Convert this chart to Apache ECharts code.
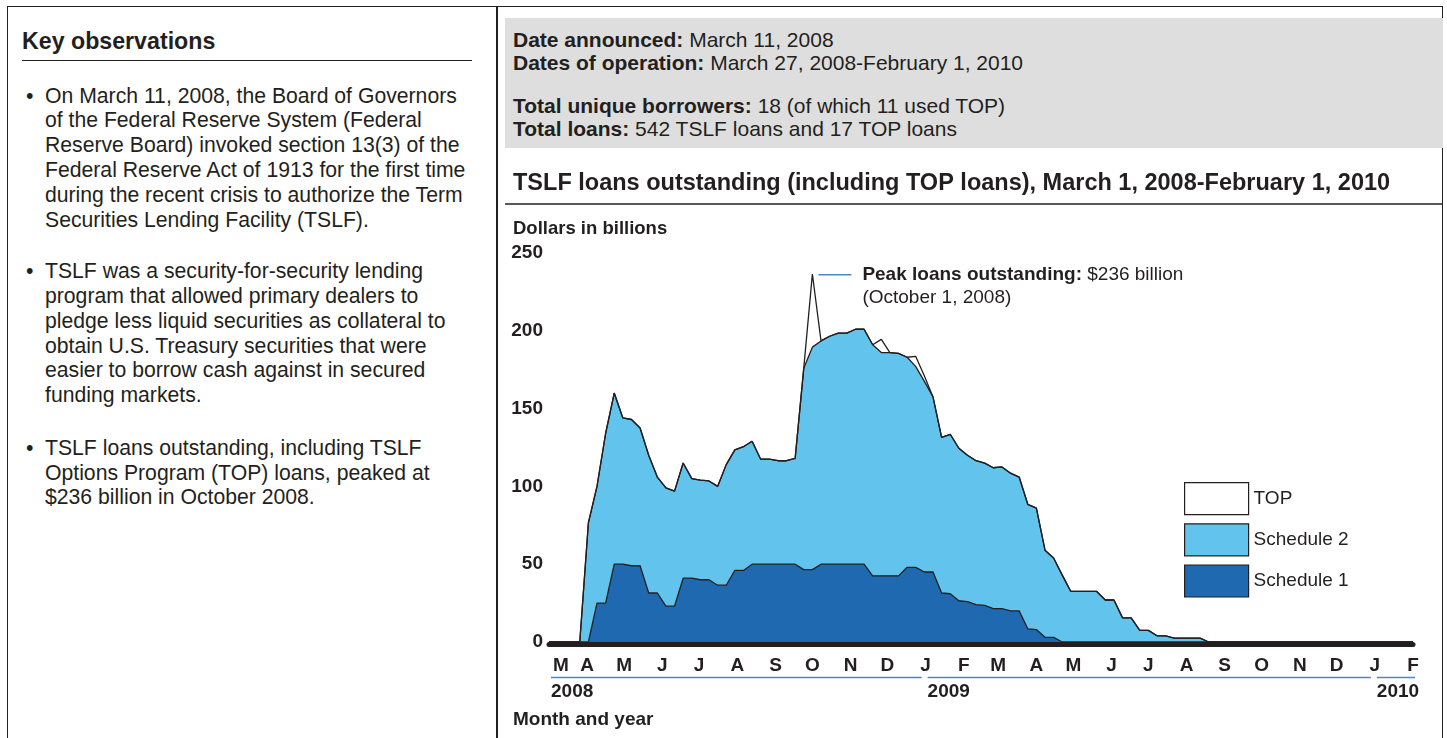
<!DOCTYPE html>
<html>
<head>
<meta charset="utf-8">
<title>TSLF loans outstanding</title>
<script src="https://cdn.jsdelivr.net/npm/echarts@6/dist/echarts.min.js"></script>
<style>
  body { margin: 0; width: 1447px; height: 738px; overflow: hidden; background: #fff;
         font-family: 'Liberation Sans', Arial, sans-serif; color: #231f20; position: relative; }
  .frame { position: absolute; left: 7px; top: 6px; width: 1436px; height: 760px;
           border: 1.5px solid #231f20; box-sizing: border-box; }
  .divider { position: absolute; left: 496px; top: 6px; width: 1.5px; height: 740px; background: #231f20; }
  .key { position: absolute; left: 22px; top: 28px; font-weight: bold; font-size: 23.2px; line-height: 26px; }
  .key-rule { position: absolute; left: 22px; top: 59.5px; width: 450px; height: 1.3px; background: #231f20; }
  .para { position: absolute; left: 45px; font-size: 21.2px; line-height: 24.8px; white-space: nowrap; }
  .para::before { content: '\2022'; position: absolute; left: -19px; top: 0; }
  .info { position: absolute; left: 505px; top: 18px; width: 938px; height: 130px; background: #dedede; }
  .info div { position: absolute; left: 8px; font-size: 21px; line-height: 23px; white-space: nowrap; }
  #chart { position: absolute; left: 0; top: 0; width: 1447px; height: 738px; }
</style>
</head>
<body>
<div class="frame"></div>
<div class="divider"></div>

<div class="key">Key observations</div>
<div class="key-rule"></div>
<div class="para" style="top:83.6px">On March 11, 2008, the Board of Governors<br>of the Federal Reserve System (Federal<br>Reserve Board) invoked section 13(3) of the<br>Federal Reserve Act of 1913 for the first time<br>during the recent crisis to authorize the Term<br>Securities Lending Facility (TSLF).</div>
<div class="para" style="top:259.3px">TSLF was a security-for-security lending<br>program that allowed primary dealers to<br>pledge less liquid securities as collateral to<br>obtain U.S. Treasury securities that were<br>easier to borrow cash against in secured<br>funding markets.</div>
<div class="para" style="top:435.9px">TSLF loans outstanding, including TSLF<br>Options Program (TOP) loans, peaked at<br>$236 billion in October 2008.</div>

<div class="info">
  <div style="top:10px"><b>Date announced:</b> March 11, 2008</div>
  <div style="top:33px"><b>Dates of operation:</b> March 27, 2008-February 1, 2010</div>
  <div style="top:76px"><b>Total unique borrowers:</b> 18 (of which 11 used TOP)</div>
  <div style="top:99px"><b>Total loans:</b> 542 TSLF loans and 17 TOP loans</div>
</div>

<div id="chart"></div>

<script>
// weekly observation dates (Wednesdays), plus the axis ends
const dates = ['2008-03-01',
  '2008-03-26', '2008-04-02', '2008-04-09', '2008-04-16', '2008-04-23', '2008-04-30',
  '2008-05-07', '2008-05-14', '2008-05-21', '2008-05-28',
  '2008-06-04', '2008-06-11', '2008-06-18', '2008-06-25',
  '2008-07-02', '2008-07-09', '2008-07-16', '2008-07-23', '2008-07-30',
  '2008-08-06', '2008-08-13', '2008-08-20', '2008-08-27',
  '2008-09-03', '2008-09-10', '2008-09-17', '2008-09-24',
  '2008-10-01', '2008-10-08', '2008-10-15', '2008-10-22', '2008-10-29',
  '2008-11-05', '2008-11-12', '2008-11-19', '2008-11-26',
  '2008-12-03', '2008-12-10', '2008-12-17', '2008-12-24', '2008-12-31',
  '2009-01-07', '2009-01-14', '2009-01-21', '2009-01-28',
  '2009-02-04', '2009-02-11', '2009-02-18', '2009-02-25',
  '2009-03-04', '2009-03-11', '2009-03-18', '2009-03-25',
  '2009-04-01', '2009-04-08', '2009-04-15', '2009-04-22', '2009-04-29',
  '2009-05-06', '2009-05-13', '2009-05-20', '2009-05-27',
  '2009-06-03', '2009-06-10', '2009-06-17', '2009-06-24',
  '2009-07-01', '2009-07-08', '2009-07-15', '2009-07-22', '2009-07-29',
  '2009-08-05', '2009-08-12', '2009-08-19',
  '2010-02-01'];

// billions of dollars
const schedule1 = [0,
  0, 0, 25, 25, 50, 50,
  49, 49, 31.5, 31.5,
  23, 23, 41, 41,
  40, 40, 36.5, 36.5, 46,
  46, 50, 50, 50,
  50, 50, 50, 46.5,
  46.5, 50, 50, 50, 50,
  50, 50, 42.5, 42.5,
  42.5, 42.5, 48, 48, 45,
  45, 31.5, 31, 26.5,
  26, 24, 23.5, 21.5,
  21.5, 20, 20, 8.5,
  8, 3, 3, 0, 0,
  0, 0, 0, 0,
  0, 0, 0, 0,
  0, 0, 0, 0, 0,
  0, 0, 0,
  0];

const schedule2 = [0,
  0, 76.5, 75, 109, 110, 94,
  94, 88.5, 88.5, 74.5,
  76, 74, 74, 64,
  64, 63.5, 63.5, 77.5, 77.5,
  79.5, 79, 67.5, 67.5,
  66.5, 66.5, 68, 129.5,
  143, 143.5, 146.5, 148.5, 148.5,
  151, 151, 148.5, 143.5,
  143.5, 143, 135, 129, 122.5,
  112.5, 100, 102.5, 98,
  94, 92.5, 91.5, 90.5,
  91, 88.5, 86, 80,
  78, 56, 51, 43, 32.5,
  32.5, 32.5, 32.5, 27,
  27, 15.5, 15.5, 7.5,
  7.5, 4, 4, 2.5, 2.5,
  2.5, 2.5, 0,
  0];

const topLoans = [0,
  0, 0, 0, 0, 0, 0,
  0, 0, 0, 0,
  0, 0, 0, 0,
  0, 0, 0, 0, 0,
  0, 0, 0, 0,
  0, 0, 0, 0,
  47, 0, 0, 0, 0,
  0, 0, 0, 8.5,
  0, 0, 0, 6.5, 3.5,
  0, 0, 0, 0,
  0, 0, 0, 0,
  0, 0, 0, 0,
  0, 0, 0, 0, 0,
  0, 0, 0, 0,
  0, 0, 0, 0,
  0, 0, 0, 0, 0,
  0, 0, 0,
  0];

const monthStarts = ['2008-03-01', '2008-04-01', '2008-05-01', '2008-06-01', '2008-07-01', '2008-08-01',
  '2008-09-01', '2008-10-01', '2008-11-01', '2008-12-01', '2009-01-01', '2009-02-01', '2009-03-01',
  '2009-04-01', '2009-05-01', '2009-06-01', '2009-07-01', '2009-08-01', '2009-09-01', '2009-10-01',
  '2009-11-01', '2009-12-01', '2010-01-01', '2010-02-01'];
const monthLetters = ['M', 'A', 'M', 'J', 'J', 'A', 'S', 'O', 'N', 'D', 'J', 'F', 'M',
  'A', 'M', 'J', 'J', 'A', 'S', 'O', 'N', 'D', 'J', 'F'];

const yearLabels = ['2008', '2009', '2010'];
const yearStarts = ['2008-03-01', '2009-01-01', '2010-01-01'];
const yearEnds = ['2009-01-01', '2010-01-01', '2010-02-01'];

const peakDate = '2008-10-01';
const peakValue = 236;

const yTicks = [0, 50, 100, 150, 200, 250];

const INK = '#231f20';
const LIGHT = '#62c4ed';
const DARK = '#1f69b1';
const RULE = '#4a88c7';
const FONT = "'Liberation Sans', Arial, sans-serif";

// local-time timestamps; the x axis is a plain value axis over these
const toTime = s => {
  const p = s.split('-').map(Number)
  return new Date(p[0], p[1] - 1, p[2]).getTime()
}
const monthTimes = monthStarts.map(toTime)

// layer tops: schedule 1, schedule 1 + 2, and the total including TOP
const levelS1 = schedule1
const levelS2 = schedule1.map((v, i) => v + schedule2[i])
const levelTop = levelS2.map((v, i) => v + topLoans[i])
const pairs = arr => dates.map((d, i) => [toTime(d), arr[i]])

const chart = echarts.init(document.getElementById('chart'))

// drawn back to front, each area filled down to zero
const areaSeries = (name, values, fill) => ({
  name: name,
  type: 'line',
  data: pairs(values),
  symbol: 'none',
  silent: true,
  itemStyle: { color: fill },
  lineStyle: { color: INK, width: 1.3 },
  areaStyle: { color: fill, opacity: 1, origin: 'start' }
})

chart.setOption({
  animation: false,
  textStyle: { fontFamily: FONT },
  grid: { left: 549, right: 34, top: 253, bottom: 96, outerBoundsMode: 'none' },
  xAxis: {
    type: 'value',
    min: toTime('2008-03-01'),
    max: toTime('2010-02-01'),
    offset: 2,
    z: 5,
    splitLine: { show: false },
    axisTick: { show: false },
    axisLine: { onZero: false, lineStyle: { color: INK, width: 5 } },
    axisLabel: {
      customValues: monthTimes,
      margin: 12,
      fontSize: 19,
      fontWeight: 'bold',
      color: INK,
      fontFamily: FONT,
      showMinLabel: true,
      showMaxLabel: true,
      hideOverlap: false,
      formatter: val => {
        const i = monthTimes.indexOf(val)
        return i === 0 ? '{first|' + monthLetters[i] + '}' : monthLetters[i]
      },
      rich: {
        first: { padding: [0, 0, 0, 24], fontSize: 19, fontWeight: 'bold', color: INK, fontFamily: FONT }
      }
    }
  },
  yAxis: {
    type: 'value',
    min: yTicks[0],
    max: yTicks[yTicks.length - 1],
    interval: 50,
    splitLine: { show: false },
    axisLine: { show: false },
    axisTick: { show: false },
    axisLabel: { margin: 6, fontSize: 19, fontWeight: 'bold', color: INK, fontFamily: FONT }
  },
  legend: {
    data: ['TOP', 'Schedule 2', 'Schedule 1'],
    orient: 'vertical',
    left: 1184,
    top: 482,
    padding: 0,
    itemWidth: 64,
    itemHeight: 32,
    itemGap: 8,
    icon: 'rect',
    selectedMode: false,
    itemStyle: { borderColor: INK, borderWidth: 1.2 },
    textStyle: { fontSize: 19, color: INK, fontFamily: FONT }
  },
  series: [
    areaSeries('TOP', levelTop, '#ffffff'),
    areaSeries('Schedule 2', levelS2, LIGHT),
    areaSeries('Schedule 1', levelS1, DARK)
  ]
})

// annotations placed from the chart's own scales
const px = (d, v) => chart.convertToPixel({ xAxisIndex: 0, yAxisIndex: 0 }, [toTime(d), v])
const boldText = (text, x, y, size) => ({
  type: 'text', silent: true,
  style: { text: text, x: x, y: y, fill: INK, font: 'bold ' + size + 'px ' + FONT, verticalAlign: 'middle' }
})

const graphics = [
  boldText('TSLF loans outstanding (including TOP loans), March 1, 2008-February 1, 2010', 513, 184, 23.5),
  { type: 'line', silent: true, shape: { x1: 505, y1: 204, x2: 1443, y2: 204 }, style: { stroke: INK, lineWidth: 1.3 } },
  boldText('Dollars in billions', 513, 229, 18.5),
  boldText('Month and year', 513, 720, 19)
]

const axisY = px(dates[0], 0)[1]
yearLabels.forEach((label, i) => {
  const x1 = px(yearStarts[i], 0)[0] + 2
  const x2 = i === yearLabels.length - 1 ? px(yearEnds[i], 0)[0] + 2 : px(yearEnds[i], 0)[0] - 4
  graphics.push({ type: 'line', silent: true, shape: { x1: x1, y1: axisY + 35.5, x2: x2, y2: axisY + 35.5 },
    style: { stroke: RULE, lineWidth: 1.5 } })
  graphics.push(boldText(label, x1, axisY + 50, 19))
})

const peak = px(peakDate, peakValue)
graphics.push({ type: 'line', silent: true, shape: { x1: peak[0] + 6, y1: peak[1], x2: peak[0] + 39, y2: peak[1] },
  style: { stroke: RULE, lineWidth: 1.5 } })
graphics.push({
  type: 'text', silent: true,
  style: {
    x: peak[0] + 50, y: peak[1] - 11.5,
    text: '{b|Peak loans outstanding:}{r| $' + peakValue + ' billion}\n{r|(October 1, 2008)}',
    verticalAlign: 'top',
    rich: {
      b: { fontWeight: 'bold', fontSize: 19, fontFamily: FONT, fill: INK, lineHeight: 23 },
      r: { fontSize: 19, fontFamily: FONT, fill: INK, lineHeight: 23 }
    }
  }
})

chart.setOption({ graphic: graphics })
</script>
</body>
</html>
